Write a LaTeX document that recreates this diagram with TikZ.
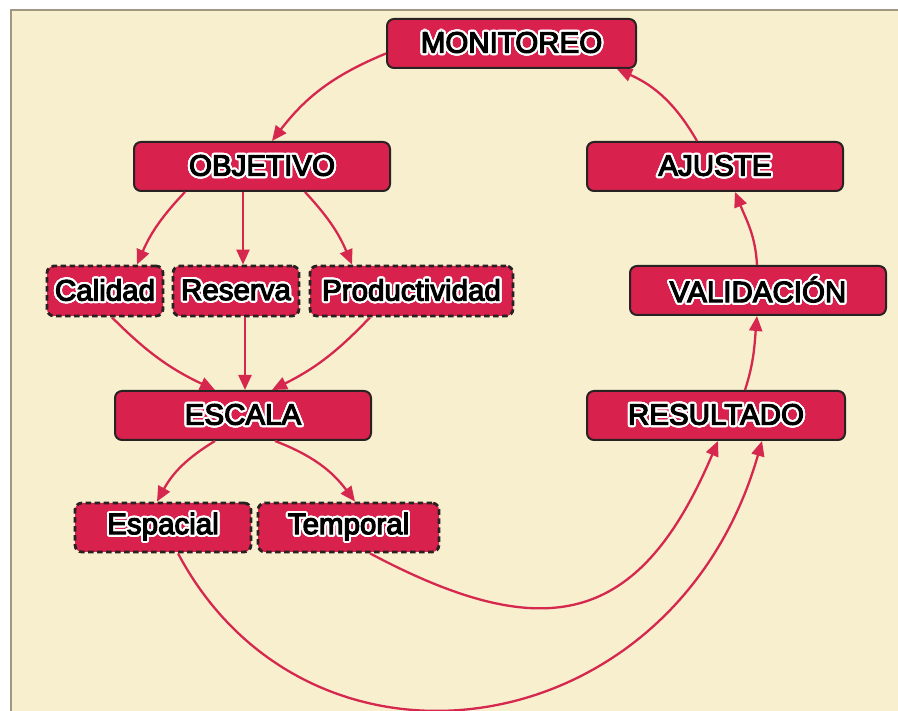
\documentclass[tikz,border=0pt]{standalone}
\usepackage{fontspec}
\setmainfont{Liberation Sans}
\newfontfamily\lblfont{Liberation Sans}[FakeBold=4]
\usepackage{contour}
\contourlength{2pt}
\contournumber{32}
\usetikzlibrary{arrows.meta}
\definecolor{bgc}{RGB}{247,239,205}
\definecolor{bordc}{RGB}{160,150,130}
\definecolor{crim}{RGB}{217,33,78}
\definecolor{boxline}{RGB}{40,34,34}
\definecolor{arrc}{RGB}{214,39,79}
\newcommand{\halo}[1]{\contour{white}{#1}}
\begin{document}
\begin{tikzpicture}[x=1pt,y=1pt,
  box/.style={draw=boxline, line width=2pt, fill=crim, rounded corners=7pt,
    minimum height=49pt, inner sep=0pt, text=black,
    font=\lblfont\fontsize{29.5}{33}\selectfont},
  dbox/.style={box, dash pattern=on 5.5pt off 3.5pt, line width=2.8pt},
  arr/.style={draw=arrc, line width=2.3pt, -{Triangle[length=15pt,width=13pt]}}]
\useasboundingbox (0,0) rectangle (898,711);
\fill[white] (0,0) rectangle (898,711);
\fill[bgc] (11,0) rectangle (898,701);
\draw[bordc, line width=1.2pt] (11,0) -- (11,701) -- (898,701);

\node[box, minimum width=249pt] (mon) at (511.5,667.5) {\halo{MONITOREO}};
\node[box, minimum width=256pt] (obj) at (262,544.5) {\halo{OBJETIVO}};
\node[box, minimum width=256pt] (aju) at (715,544.5) {\halo{AJUSTE}};
\node[box, minimum width=256pt] (val) at (758,420.5) {\halo{VALIDACIÓN}};
\node[dbox, minimum width=116pt, minimum height=50pt] (cal) at (105,420) {\halo{Calidad}};
\node[dbox, minimum width=126pt, minimum height=50pt] (res) at (236,420) {\halo{Reserva}};
\node[dbox, minimum width=203pt, minimum height=50pt] (pro) at (411.5,420) {\halo{Productividad}};
\node[box, minimum width=256pt] (esc) at (243,295.5) {\halo{ESCALA}};
\node[box, minimum width=258pt] (rsl) at (716,295.5) {\halo{RESULTADO}};
\node[dbox, minimum width=176pt] (esp) at (163,183.5) {\halo{Espacial}};
\node[dbox, minimum width=181pt] (tem) at (348.5,183.5) {\halo{Temporal}};

\draw[arr] ([yshift=-10pt]mon.west) to[bend right=15] ([xshift=10pt]obj.north);
\draw[arr] ([xshift=-77pt]obj.south) to[bend right=10] ([xshift=32pt]cal.north);
\draw[arr] ([xshift=-19pt]obj.south) -- ([xshift=7pt]res.north);
\draw[arr] ([xshift=43pt]obj.south) to[bend left=10] ([xshift=-59.5pt]pro.north);
\draw[arr] ([xshift=7pt]cal.south) to[bend right=10] ([xshift=-28pt]esc.north);
\draw[arr] ([xshift=9pt]res.south) -- ([xshift=2pt]esc.north);
\draw[arr] ([xshift=-41.5pt]pro.south) to[bend left=10] ([xshift=29pt]esc.north);
\draw[arr] ([xshift=-28pt]esc.south) to[bend right=15] ([xshift=-6pt]esp.north);
\draw[arr] ([xshift=32pt]esc.south) to[bend left=16] ([xshift=6.5pt]tem.north);
\draw[arr] ([xshift=21.5pt]tem.south) .. controls +(-28:200) and +(-113:200) .. ([xshift=2pt]rsl.south);
\draw[arr] ([xshift=15pt]esp.south) .. controls +(-62:280) and +(-106:320) .. ([xshift=46pt]rsl.south);
\draw[arr] ([xshift=29pt]rsl.north) to[out=72,in=-95] ([xshift=-1pt]val.south);
\draw[arr] ([xshift=-1pt]val.north) to[out=93,in=-68] ([xshift=20pt]aju.south);
\draw[arr] ([xshift=-18pt]aju.north) to[bend right=18] ([xshift=105.5pt]mon.south);
\end{tikzpicture}
\end{document}
